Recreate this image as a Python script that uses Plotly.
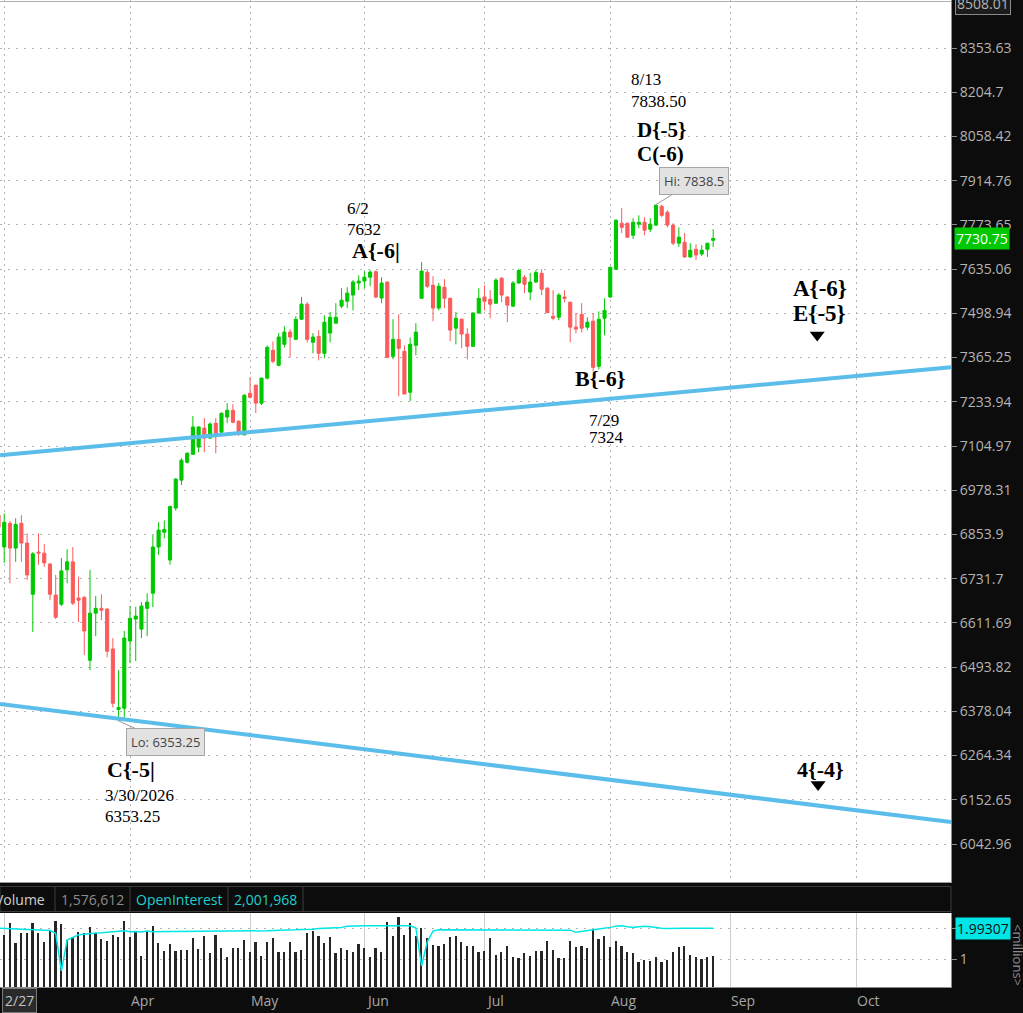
import math

import pandas as pd
import plotly.graph_objects as go

# trading sessions on the chart (2/27 .. 8/27/2026), exchange holidays skipped
holidays = ["2026-04-03", "2026-05-25", "2026-06-19", "2026-07-03"]
future_until = "2026-10-23"   # empty expansion area right of the last bar

# daily OHLC, one row of 10 sessions per line
opens = [
    6908, 6819, 6885, 6816, 6885, 6830, 6689, 6805, 6802, 6772,
    6687, 6662, 6756, 6778, 6679, 6681, 6512, 6638, 6651, 6649,
    6542, 6383, 6386, 6563, 6622, 6595, 6651, 6692, 6819, 6860,
    6783, 6928, 7007, 7058, 7081, 7102, 7157, 7128, 7171, 7145,
    7189, 7209, 7177, 7137, 7259, 7283, 7230, 7304, 7387, 7342,
    7405, 7442, 7420, 7481, 7527, 7411, 7429, 7378, 7439, 7469,
    7521, 7536, 7555, 7592, 7598, 7610, 7627, 7546, 7595, 7369,
    7420, 7384, 7262, 7402, 7545, 7625, 7585, 7515, 7579, 7545,
    7454, 7481, 7436, 7399, 7500, 7549, 7542, 7530, 7607, 7549,
    7521, 7592, 7610, 7564, 7595, 7622, 7576, 7490, 7487, 7549,
    7533, 7457, 7496, 7457, 7475, 7339, 7484, 7549, 7635, 7779,
    7779, 7741, 7776, 7782, 7760, 7773, 7833, 7814, 7773, 7716,
    7719, 7673, 7697, 7682, 7697, 7725,
]
highs = [
    6922, 6913, 6892, 6899, 6908, 6857, 6805, 6857, 6827, 6775,
    6742, 6789, 6813, 6819, 6737, 6684, 6756, 6684, 6689, 6651,
    6571, 6486, 6590, 6657, 6655, 6668, 6692, 6852, 6888, 6893,
    6935, 7013, 7070, 7087, 7192, 7163, 7186, 7174, 7186, 7203,
    7230, 7227, 7180, 7257, 7307, 7284, 7305, 7402, 7414, 7439,
    7460, 7451, 7490, 7549, 7533, 7439, 7448, 7493, 7503, 7530,
    7576, 7579, 7601, 7616, 7628, 7632, 7631, 7610, 7597, 7481,
    7496, 7402, 7426, 7469, 7657, 7635, 7613, 7592, 7604, 7547,
    7503, 7483, 7454, 7502, 7576, 7585, 7570, 7607, 7610, 7551,
    7598, 7636, 7617, 7623, 7632, 7635, 7579, 7570, 7561, 7570,
    7535, 7500, 7530, 7487, 7500, 7505, 7545, 7642, 7792, 7827,
    7780, 7795, 7804, 7798, 7795, 7838.5, 7838, 7820, 7779, 7766,
    7748, 7716, 7713, 7710, 7716, 7760,
]
lows = [
    6860, 6775, 6719, 6778, 6778, 6728, 6587, 6770, 6764, 6673,
    6622, 6657, 6719, 6660, 6614, 6526, 6486, 6576, 6619, 6520,
    6388, 6353.25, 6356, 6504, 6510, 6571, 6576, 6654, 6797, 6843,
    6770, 6920, 6993, 7055, 7079, 7087, 7087, 7125, 7084, 7142,
    7171, 7171, 7134, 7137, 7244, 7201, 7224, 7300, 7348, 7339,
    7396, 7366, 7418, 7479, 7411, 7378, 7357, 7363, 7411, 7469,
    7515, 7515, 7508, 7570, 7576, 7582, 7545, 7530, 7363, 7360,
    7250, 7256, 7236, 7372, 7545, 7576, 7475, 7508, 7515, 7414,
    7405, 7393, 7360, 7397, 7498, 7508, 7484, 7528, 7533, 7472,
    7518, 7590, 7561, 7539, 7593, 7555, 7500, 7478, 7478, 7533,
    7411, 7438, 7441, 7448, 7324, 7330, 7432, 7546, 7632, 7748,
    7732, 7729, 7763, 7741, 7751, 7770, 7798, 7766, 7710, 7704,
    7670, 7670, 7663, 7676, 7673, 7704,
]
closes = [
    6874, 6888, 6816, 6882, 6830, 6742, 6800, 6802, 6775, 6689,
    6627, 6753, 6778, 6665, 6673, 6590, 6638, 6651, 6646, 6536,
    6399, 6388, 6571, 6624, 6630, 6657, 6668, 6819, 6866, 6868,
    6932, 7010, 7064, 7084, 7160, 7160, 7128, 7169, 7142, 7200,
    7209, 7174, 7145, 7253, 7247, 7230, 7304, 7396, 7354, 7427,
    7442, 7427, 7481, 7527, 7420, 7427, 7378, 7472, 7487, 7487,
    7539, 7561, 7595, 7598, 7610, 7626, 7549, 7592, 7366, 7420,
    7393, 7257, 7405, 7442, 7629, 7582, 7515, 7582, 7545, 7448,
    7484, 7436, 7399, 7500, 7545, 7536, 7527, 7601, 7555, 7524,
    7592, 7631, 7588, 7595, 7625, 7573, 7501, 7484, 7555, 7545,
    7457, 7451, 7454, 7472, 7336, 7481, 7508, 7641, 7788, 7766,
    7735, 7782, 7782, 7757, 7776, 7836, 7804, 7773, 7716, 7735,
    7673, 7694, 7679, 7694, 7716, 7730.75,
]

# lower study, millions of contracts
volume_m = [
    1.80, 1.79, 2.17, 1.53, 1.85, 1.85, 2.17, 1.85, 1.56, 1.95,
    2.24, 2.13, 1.62, 1.70, 1.88, 1.83, 2.04, 1.83, 1.63, 1.58,
    1.79, 1.72, 2.21, 1.72, 1.88, 1.10, 1.91, 2.07, 1.53, 1.27,
    1.47, 1.27, 1.29, 1.29, 1.67, 1.31, 1.74, 1.18, 1.79, 1.37,
    1.05, 1.35, 1.35, 1.62, 1.24, 1.54, 1.10, 1.54, 1.67, 1.24,
    1.24, 1.56, 1.24, 1.29, 1.83, 1.91, 1.74, 1.51, 1.70, 1.18,
    1.35, 1.29, 1.24, 1.47, 1.35, 1.05, 1.35, 1.24, 2.19, 1.74,
    2.37, 1.79, 2.15, 1.74, 1.99, 1.67, 1.46, 1.42, 1.47, 1.70,
    1.74, 1.54, 1.42, 1.42, 1.24, 1.27, 1.67, 1.12, 1.24, 1.42,
    1.05, 1.02, 1.21, 1.10, 1.26, 1.26, 1.58, 1.29, 1.02, 1.02,
    1.58, 1.40, 1.42, 1.35, 1.94, 1.63, 1.74, 1.40, 1.58, 1.42,
    1.24, 1.18, 0.91, 0.96, 0.95, 1.05, 0.91, 0.96, 1.24, 1.40,
    1.42, 1.12, 1.05, 0.99, 1.05, 1.10,
]
open_interest_m = [
    1.99, 1.98, 1.97, 1.96, 1.95, 1.95, 1.94, 1.94, 1.93, 1.92,
    1.83, 0.62, 1.61, 1.70, 1.78, 1.80, 1.83, 1.84, 1.85, 1.86,
    1.87, 1.88, 1.91, 1.88, 1.89, 1.87, 1.90, 1.88, 1.89, 1.89,
    1.89, 1.89, 1.89, 1.89, 1.89, 1.89, 1.90, 1.90, 1.90, 1.90,
    1.90, 1.90, 1.90, 1.90, 1.90, 1.90, 1.91, 1.91, 1.92, 1.92,
    1.93, 1.94, 1.94, 1.95, 1.95, 1.96, 1.98, 1.99, 2.00, 2.01,
    2.02, 2.06, 2.07, 2.07, 2.07, 2.07, 2.07, 2.07, 2.07, 2.07,
    2.07, 2.07, 2.07, 2.00, 0.78, 1.56, 1.90, 1.94, 1.94, 1.94,
    1.94, 1.94, 1.94, 1.94, 1.94, 1.94, 1.94, 1.94, 1.94, 1.94,
    1.94, 1.93, 1.93, 1.93, 1.93, 1.93, 1.93, 1.93, 1.93, 1.93,
    1.93, 1.86, 1.88, 1.91, 1.94, 1.97, 1.99, 2.02, 2.06, 2.07,
    2.04, 2.02, 2.04, 2.06, 2.04, 2.01, 1.99, 1.98, 1.99, 1.99,
    1.99, 1.99, 1.99, 1.99, 1.99, 1.99307,
]

price_ticks = [8353.63, 8204.7, 8058.42, 7914.76, 7773.65, 7635.06, 7498.94,
               7365.25, 7233.94, 7104.97, 6978.31, 6853.9, 6731.7, 6611.69,
               6493.82, 6378.04, 6264.34, 6152.65, 6042.96]
top_price_label = 8508.01
last_price = 7730.75
hi_price = 7838.5
lo_price = 6353.25

# trend channel, price at the left and right edge of the view
upper_channel = [7078.6, 7336.4]
lower_channel = [6396.9, 6097.1]

volume_total = "1,576,612"
oi_total = "2,001,968"
oi_last = 1.99307

# wave labels: text, session position, price level, size, bold
wave_labels = [
    ("C{-5|", 18.6, 6229, 22, True),
    ("3/30/2026", 18.3, 6163, 17, False),
    ("6353.25", 18.3, 6112, 17, False),
    ("6/2", 60.6, 7827, 17, False),
    ("7632", 60.6, 7760, 17, False),
    ("A{-6|", 61.5, 7694, 22, True),
    ("B{-6}", 100.5, 7304, 22, True),
    ("7/29", 102.9, 7180, 17, False),
    ("7324", 102.9, 7131, 17, False),
    ("8/13", 110.3, 8248, 17, False),
    ("7838.50", 110.3, 8175, 17, False),
    ("D{-5}", 111.3, 8079, 21, True),
    ("C(-6)", 111.3, 8001, 21, True),
    ("A{-6}", 138.6, 7576, 23, True),
    ("E{-5}", 138.6, 7499, 23, True),
    ("4{-4}", 139.3, 6229, 22, True),
]
target_marks_x = [143.2, 143.35]
target_marks_y = [7433, 6191]

GREEN = "#00c800"
RED = "#fa5c5c"
CHANNEL = "#5bbdea"
CYAN = "#00e6e6"
PANEL = "#0c0c0c"
AXIS_TXT = "#b4b4b4"

sessions = pd.bdate_range("2026-02-27", "2026-08-27")
sessions = sessions[~sessions.isin(pd.to_datetime(holidays))]
axis_days = sessions.append(pd.bdate_range("2026-08-28", future_until))
bar_x = list(range(len(sessions)))
month_starts = [i for i in range(1, len(axis_days))
                if axis_days[i].month != axis_days[i - 1].month]

x_view = [0.26, 166.6]
y_view = [5950.3, 8518.4]

# figure is 1023x1013; plot area 951 px wide, price pane 882 px, volume 74 px
W, H = 1023, 1013
PLOT_W, PLOT_H = 951, 987


def py(pixel):
    return 1 - pixel / PLOT_H


fig = go.Figure()

fig.add_trace(go.Candlestick(
    x=bar_x, open=opens, high=highs, low=lows, close=closes,
    increasing=dict(line=dict(color=GREEN, width=1), fillcolor=GREEN),
    decreasing=dict(line=dict(color=RED, width=1), fillcolor=RED),
    whiskerwidth=0, hoverinfo="skip", showlegend=False,
    xaxis="x", yaxis="y"))

for chan in (upper_channel, lower_channel):
    fig.add_trace(go.Scatter(
        x=x_view, y=chan, mode="lines", line=dict(color=CHANNEL, width=4),
        hoverinfo="skip", showlegend=False, xaxis="x", yaxis="y"))

fig.add_trace(go.Scatter(
    x=target_marks_x, y=target_marks_y, mode="markers",
    marker=dict(symbol="triangle-down", size=13, color="black"),
    hoverinfo="skip", showlegend=False, xaxis="x", yaxis="y"))

fig.add_trace(go.Bar(
    x=bar_x, y=volume_m, width=0.3, marker=dict(color="#262626", line_width=0),
    hoverinfo="skip", showlegend=False, xaxis="x2", yaxis="y2"))
fig.add_trace(go.Scatter(
    x=bar_x, y=open_interest_m, mode="lines", line=dict(color=CYAN, width=1.5),
    hoverinfo="skip", showlegend=False, xaxis="x2", yaxis="y2"))

serif = "Liberation Serif"
sans = "Open Sans"
ann = []
for text, xpos, price, size, bold in wave_labels:
    ann.append(dict(
        text=f"<b>{text}</b>" if bold else text, x=xpos, y=math.log10(price),
        xref="x", yref="y", xanchor="left", yanchor="middle", showarrow=False,
        font=dict(family=serif, size=size, color="black")))

callout = dict(showarrow=True, arrowhead=0, arrowwidth=1, arrowcolor="#9a9a9a",
               bgcolor="#e2e2e2", bordercolor="#a6a6a6", borderwidth=1, borderpad=4,
               font=dict(family=sans, size=13, color="#444444"), xref="x", yref="y")
ann.append(dict(callout, text=f"Lo: {lo_price}", x=lows.index(lo_price),
                y=math.log10(lo_price), ax=47, ay=21))
ann.append(dict(callout, text=f"Hi: {hi_price}", x=highs.index(hi_price),
                y=math.log10(hi_price), ax=38, ay=-23))

# right price scale extras
ann.append(dict(text=f"{top_price_label:.2f}", xref="paper", yref="y",
                x=1 + 4 / PLOT_W, y=math.log10(top_price_label), xanchor="left",
                showarrow=False, bgcolor="#1c1c1c", bordercolor="#8a8a8a",
                borderwidth=1, borderpad=1, font=dict(family=sans, size=14, color=AXIS_TXT)))
ann.append(dict(text=f"{last_price:.2f}", xref="paper", yref="y",
                x=1 + 3 / PLOT_W, y=math.log10(last_price), xanchor="left",
                showarrow=False, bgcolor="#00c800", borderpad=1,
                font=dict(family=sans, size=14, color="white")))

# volume header strip
hdr_y = py(899)
ann += [
    dict(text="Volume", x=47 / PLOT_W, xanchor="right", font_color="#d2d2d2"),
    dict(text=volume_total, x=92 / PLOT_W, xanchor="center", font_color="#8c8c8c"),
    dict(text="OpenInterest", x=179 / PLOT_W, xanchor="center", font_color="#1fcfcf"),
    dict(text=oi_total, x=265 / PLOT_W, xanchor="center", font_color="#1fcfcf"),
]
for a in ann[-4:]:
    a.update(xref="paper", yref="paper", y=hdr_y, yanchor="middle",
             showarrow=False, font=dict(family=sans, size=14, color=a.pop("font_color")))

ann.append(dict(text=f"{oi_last}", xref="paper", yref="y2", x=1 + 4 / PLOT_W,
                y=oi_last, xanchor="left", showarrow=False, bgcolor=CYAN, borderpad=1,
                font=dict(family=sans, size=14, color="#101010")))
ann.append(dict(text="&lt;millions&gt;", xref="paper", yref="paper",
                x=1018 / PLOT_W, y=py(955), xanchor="center", yanchor="middle",
                textangle=90, showarrow=False,
                font=dict(family=sans, size=13, color="#8c8c8c")))

# month names along the bottom, left aligned on the month line
for i in month_starts[1:]:
    if i >= x_view[1]:
        continue
    ann.append(dict(text=axis_days[i].strftime("%b"), x=i - 0.15, xref="x",
                    y=py(1000), yref="paper", xanchor="left", yanchor="middle",
                    showarrow=False, font=dict(family=sans, size=14, color="#a6a6a6")))
ann.append(dict(text=f"{axis_days[0].month}/{axis_days[0].day}", xref="paper",
                yref="paper", x=19 / PLOT_W, y=py(1000), xanchor="center",
                yanchor="middle", showarrow=False, bgcolor="#2a2a2a",
                bordercolor="#7a7a7a", borderwidth=1, borderpad=2,
                font=dict(family=sans, size=14, color="#c4c4c4")))

shapes = [
    dict(type="rect", xref="paper", yref="paper", x0=0, x1=1,
         y0=py(911.5), y1=py(886.5), line=dict(color="#3c3c3c", width=1),
         fillcolor=PANEL, layer="below"),
    dict(type="line", xref="paper", yref="paper", x0=0, x1=1, y0=py(1.5), y1=py(1.5),
         line=dict(color="#b0b0b0", width=1)),
]
for sep in (55, 130, 228, 303):
    shapes.append(dict(type="line", xref="paper", yref="paper",
                       x0=sep / PLOT_W, x1=sep / PLOT_W, y0=py(911.5), y1=py(886.5),
                       line=dict(color="#3c3c3c", width=1)))

fig.update_layout(
    width=W, height=H,
    margin=dict(l=0, r=W - PLOT_W, t=0, b=H - PLOT_H),
    paper_bgcolor=PANEL, plot_bgcolor="white",
    bargap=0, boxgap=0.22, showlegend=False,
    annotations=ann, shapes=shapes,
    xaxis=dict(range=x_view, domain=[0, 1], anchor="y",
               tickvals=month_starts, showticklabels=False, ticks="",
               showgrid=True, gridcolor="#b4b4b4", griddash="2px,4px",
               zeroline=False, rangeslider=dict(visible=False),
               showline=True, linecolor="#9a9a9a"),
    yaxis=dict(type="log", range=[math.log10(v) for v in y_view],
               domain=[py(882), 1], side="right", anchor="x",
               tickvals=price_ticks, ticktext=[f"{v:g}" for v in price_ticks],
               ticks="outside", ticklen=5, tickcolor="#8a8a8a",
               tickfont=dict(family=sans, size=14, color=AXIS_TXT),
               showgrid=True, gridcolor="#b4b4b4", griddash="2px,6px",
               zeroline=False, showline=True, linecolor="#8c8c8c"),
    xaxis2=dict(range=x_view, domain=[0, 1], anchor="y2", matches="x",
                tickvals=month_starts, showticklabels=False, ticks="",
                showgrid=True, gridcolor="#cdcdcd", zeroline=False,
                showline=True, linecolor="#8c8c8c"),
    yaxis2=dict(range=[0.097, 2.484], domain=[0, py(913)], side="right",
                anchor="x2", tickvals=[1, 2], ticktext=["1", ""],
                ticks="outside", ticklen=5, tickcolor="#8a8a8a",
                tickfont=dict(family=sans, size=14, color=AXIS_TXT),
                showgrid=True, gridcolor="#b4b4b4", griddash="2px,6px",
                zeroline=False, showline=True, linecolor="#8c8c8c"),
)

# the page body has a default 8px margin; drop it so the chart sits at 0,0
fig.write_html("out.html", config={"displayModeBar": False},
               post_script="document.body.style.margin='0';"
                           "document.body.style.overflow='hidden';")
